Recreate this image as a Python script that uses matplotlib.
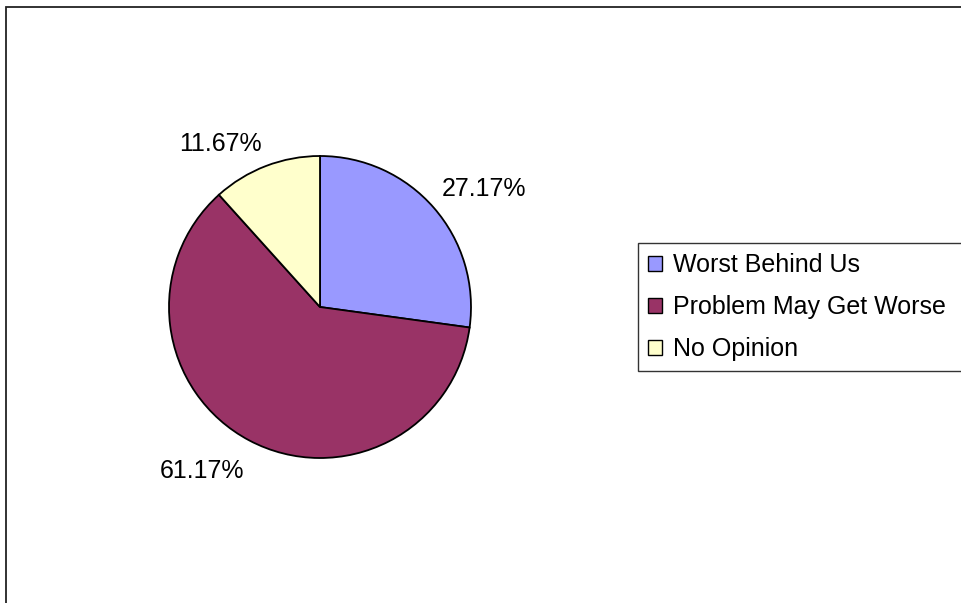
import numpy as np
import matplotlib
matplotlib.use('Agg')
import matplotlib.pyplot as plt
from matplotlib.patches import Rectangle

# survey answers
labels = ['Worst Behind Us', 'Problem May Get Worse', 'No Opinion']
shares = [27.17, 61.17, 11.67]
colors = ['#9999FF', '#993366', '#FFFFCC']

plt.rcParams['font.family'] = ['Liberation Sans', 'DejaVu Sans']

W, H = 962, 603
fig = plt.figure(figsize=(W / 100, H / 100), dpi=100)
fig.patch.set_facecolor('white')

# outer chart frame (runs off the right / bottom edge)
fig.patches.append(Rectangle((6 / W, -0.05), 1.1, 1 - 7 / H + 0.05,
                             transform=fig.transFigure, fill=False,
                             edgecolor='#222222', linewidth=1.3))

ax = fig.add_axes([169 / W, 1 - 458 / H, 302 / W, 302 / H])
wedges, _ = ax.pie(shares, colors=colors, startangle=90, counterclock=False,
                   radius=1.0, wedgeprops=dict(edgecolor='black', linewidth=1.3))
ax.set_xlim(-1, 1)
ax.set_ylim(-1, 1)
ax.set_aspect('equal')
ax.axis('off')

# percentage labels just outside each slice
for w, v in zip(wedges, shares):
    mid = np.deg2rad((w.theta1 + w.theta2) / 2)
    x, y = 1.07 * np.cos(mid), 1.07 * np.sin(mid)
    ha = 'left' if x > 0 else 'right'
    va = 'bottom' if y > 0 else 'top'
    if y < 0:
        y -= 0.06
    ax.text(x, y, '%.2f%%' % v, ha=ha, va=va, fontsize=18, clip_on=False)

leg = fig.legend(wedges, labels, loc='upper left', mode='expand',
                 bbox_to_anchor=(638 / W, 0, 340 / W, 1 - 243 / H), fontsize=18,
                 frameon=True, fancybox=False, shadow=False,
                 handlelength=0.55, handleheight=0.55, handletextpad=0.45,
                 borderpad=0.4, labelspacing=0.72, borderaxespad=0)
leg.get_frame().set_edgecolor('black')
leg.get_frame().set_linewidth(1.0)
for h in leg.legend_handles:
    h.set_edgecolor('black')
    h.set_linewidth(1.0)

fig.savefig('out.png', dpi=100)
